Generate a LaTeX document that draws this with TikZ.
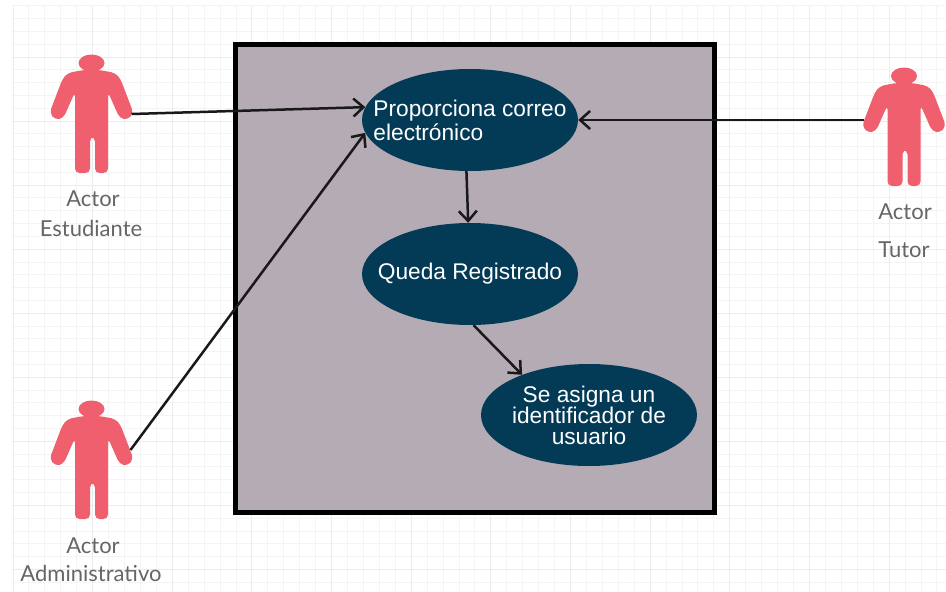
\documentclass[tikz,border=0pt]{standalone}
\usepackage{fontspec}
\setmainfont{Liberation Sans}
\newfontfamily\lato{Lato}
\usepackage{xcolor}
\usetikzlibrary{shapes.geometric,arrows.meta}
\definecolor{actorred}{HTML}{EF5F6E}
\definecolor{ovalblue}{HTML}{033A56}
\definecolor{boxgrey}{HTML}{B5ABB5}
\definecolor{gridminor}{HTML}{F4F4F4}
\definecolor{gridmajor}{HTML}{ECECEC}
\definecolor{labelgrey}{HTML}{666666}
\newcommand{\ovalfont}{\fontsize{22.7}{24}\selectfont\setlength{\lineskiplimit}{-10pt}}
\tikzset{
  actor/.pic={
    \fill[actorred] (0,0) ellipse (13 and 8.5);
    \fill[actorred,rounded corners=4.5] (-8,7) -- (8,7) -- (24,10) -- (29,16) -- (42,50) -- (36,57) -- (28,55) -- (16.5,29) -- (16.5,110) -- (3.5,110) -- (3.5,74) -- (-1.5,74) -- (-1.5,110) -- (-16.5,110) -- (-16.5,29) -- (-28,55) -- (-36,57) -- (-42,50) -- (-29,16) -- (-24,10) -- cycle;
    \coordinate (-handleft) at (-40,44);
    \coordinate (-handright) at (40,51);
    \coordinate (-handup) at (39,41);
  },
  oval/.style={ellipse,fill=ovalblue,minimum width=216,minimum height=102,inner sep=0},
  ovaltext/.style={text=white,font=\ovalfont,align=#1},
  actorlabel/.style={text=labelgrey,font=\lato\fontsize{22}{24}\selectfont},
  link/.style={-{Straight Barb[length=10,width=18]},line width=2.5,black!90}
}
\begin{document}
\begin{tikzpicture}[x=1pt,y=-1pt]
  \useasboundingbox (0,0) rectangle (946,592);
  \fill[white] (0,0) rectangle (946,592);

  % background grid
  \foreach \i in {0,...,58} {
    \pgfmathsetmacro{\gridx}{12.7+15.93*\i}
    \draw[gridminor] (\gridx,6) -- (\gridx,592);
  }
  \foreach \j in {0,...,45} {
    \pgfmathsetmacro{\gridy}{5.5+12.81*\j}
    \draw[gridminor] (12,\gridy) -- (946,\gridy);
  }
  \foreach \i in {0,5,...,55} {
    \pgfmathsetmacro{\gridx}{12.7+15.93*\i}
    \draw[gridmajor] (\gridx,6) -- (\gridx,592);
  }
  \foreach \j in {4,9,...,44} {
    \pgfmathsetmacro{\gridy}{5.5+12.81*\j}
    \draw[gridmajor] (12,\gridy) -- (946,\gridy);
  }

  \draw[line width=5,fill=boxgrey] (235,44) rectangle (714,512);

  \node[oval,label={[ovaltext=left]center:Proporciona correo\\electrónico}] (correo) at (470,120) {};
  \node[oval,label={[ovaltext=center]center:Queda Registrado}] (registro) at (470,274) {};
  \node[oval,label={[ovaltext=center]center:Se asigna un\\[-3pt]identificador de\\[-3pt]usuario}] (asigna) at (589,415) {};

  \pic (estudiante) at (91.5,63) {actor};
  \pic (admin) at (91.5,409) {actor};
  \pic (tutor) at (904,76) {actor};

  \node[actorlabel] (lblest1) at (93,199) {Actor};
  \node[actorlabel] (lblest2) at (91,228) {Estudiante};
  \node[actorlabel] (lbladm1) at (93,546) {Actor};
  \node[actorlabel] (lbladm2) at (91,573) {Administrativo};
  \node[actorlabel] (lbltut1) at (905,212) {Actor};
  \node[actorlabel] (lbltut2) at (904,250) {Tutor};

  \path[link]
    (estudiante-handright) edge (correo.173)
    (admin-handup) edge (correo.187)
    (tutor-handleft) edge (correo.east)
    (correo.-94) edge (registro.92)
    (registro.-86) edge (asigna.149);
\end{tikzpicture}
\end{document}
